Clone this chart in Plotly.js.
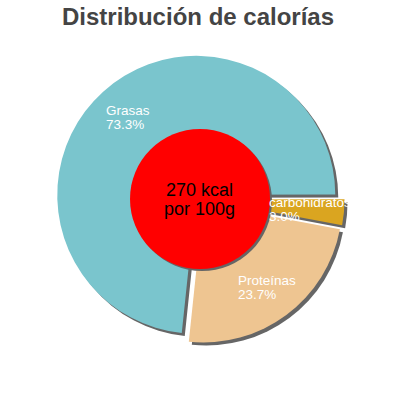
<!DOCTYPE html>
<html><head><meta charset="utf-8">
<script src="https://cdn.plot.ly/plotly-3.0.1.min.js"></script>
<style>html,body{margin:0;padding:0;background:#fff;}#chart{width:400px;height:400px;}</style>
</head><body><div id="chart"></div>
<script>
// ---- data ----
const categories = ['Grasas', 'carbohidratos', 'Proteínas'];
const percentages = [73.3, 3.0, 23.7];
const sliceColors = ['#7AC5CD', '#DAA520', '#EEC591'];
const energyLines = ['270 kcal', 'por 100g'];
const chartTitle = 'Distribución de calorías';

// ---- geometry / style ----
const W = 400, H = 400;
const CX = 200, CY = 199;   // pie centre (px)
const R = 139;              // pie radius (px)
const PULL = 0.04;
const ROT = 186;
const SHADOW = 3;
const HOLE_R = 70;
const LABEL_F = 0.75;
const LFS = 13.5;           // label font size
const LINE = 13.6;          // label line spacing
const FONT = 'Liberation Sans, Arial, sans-serif';
const half = R * (1 + PULL);

function dom(ox, oy) {
  return {
    x: [(CX + ox - half) / W, (CX + ox + half) / W],
    y: [(H - (CY + oy) - half) / H, (H - (CY + oy) + half) / H]
  };
}

const base = {
  type: 'pie', labels: categories, values: percentages, sort: false,
  direction: 'clockwise', rotation: ROT, pull: percentages.map(() => PULL),
  textinfo: 'none', hoverinfo: 'skip', showlegend: false
};

const shadowTrace = Object.assign({}, base, {
  domain: dom(SHADOW, SHADOW),
  marker: {colors: percentages.map(() => '#666666'), line: {width: 0}}
});
const mainTrace = Object.assign({}, base, {
  domain: dom(0, 0),
  marker: {colors: sliceColors, line: {width: 0}}
});

// label positions derived from slice angles
const total = percentages.reduce((a, b) => a + b, 0);
const ctx = document.createElement('canvas').getContext('2d');
ctx.font = LFS + "px 'Liberation Sans'";
const annotations = [];
let acc = 0;
categories.forEach((name, i) => {
  const mid = (ROT + (acc + percentages[i] / 2) / total * 360) * Math.PI / 180;
  acc += percentages[i];
  const d = (PULL + LABEL_F) * R;
  const lx = CX + d * Math.sin(mid);
  const ly = CY - d * Math.cos(mid);
  const l1 = name, l2 = percentages[i].toFixed(1) + '%';
  const w = Math.max(ctx.measureText(l1).width, ctx.measureText(l2).width);
  const left = lx - w / 2 - 1;
  const b1 = ly - (0.716 * LFS - LINE) / 2 - LINE + 0 ;
  const bb1 = ly - (LINE - 0.716 * LFS) / 2;
  const bb2 = bb1 + LINE;
  [[l1, bb1], [l2, bb2]].forEach(([t, b]) => {
    annotations.push({
      text: t, xref: 'paper', yref: 'paper', x: left / W, y: 1 - (b - 0.3465 * LFS) / H,
      xanchor: 'left', yanchor: 'middle', showarrow: false,
      font: {family: FONT, size: LFS, color: '#ffffff'}
    });
  });
});
// centre text
const cb = [196.7, 215];
energyLines.forEach((t, i) => {
  annotations.push({
    text: t, xref: 'paper', yref: 'paper', x: 199.7 / W, y: 1 - (cb[i] - 0.3465 * 18) / H,
    xanchor: 'center', yanchor: 'middle', showarrow: false,
    font: {family: FONT, size: 18, color: '#000000'}
  });
});

function circ(ox, oy, color) {
  return {
    type: 'circle', xref: 'paper', yref: 'paper', layer: 'above',
    x0: (CX + ox - HOLE_R) / W, x1: (CX + ox + HOLE_R) / W,
    y0: (H - (CY + oy) - HOLE_R) / H, y1: (H - (CY + oy) + HOLE_R) / H,
    fillcolor: color, line: {width: 0}
  };
}

const layout = {
  width: W, height: H,
  margin: {l: 0, r: 0, t: 0, b: 0},
  paper_bgcolor: '#ffffff',
  showlegend: false,
  title: {
    text: chartTitle, x: 198 / W, xanchor: 'center', xref: 'container',
    y: 1 - 16.6 / H, yanchor: 'middle', yref: 'container',
    font: {family: FONT, size: 24, color: '#444444', weight: 'bold'}
  },
  shapes: [circ(2, 2, '#666666'), circ(0, 0, '#ff0000')],
  annotations: annotations
};

Plotly.newPlot('chart', [shadowTrace, mainTrace], layout, {staticPlot: true, displayModeBar: false});
</script>
</body></html>
